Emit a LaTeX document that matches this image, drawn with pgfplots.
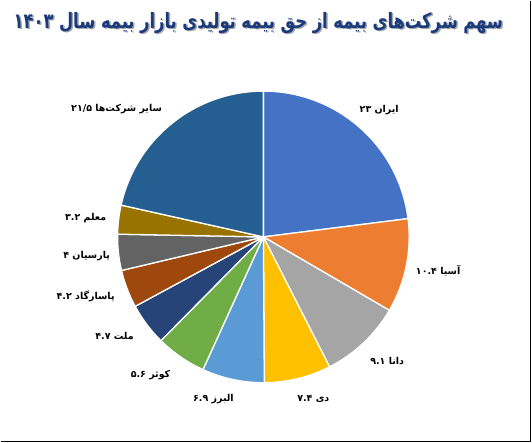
\documentclass[border=0pt]{standalone}
\usepackage{pgfplots}
\pgfplotsset{compat=1.18}
\usepackage{pgfplotstable}
\usepackage{fontspec}
\setmainfont{DejaVu Sans}
\newfontfamily\arabicfont[Script=Arabic]{DejaVu Sans}
\TeXXeTstate=1
\definecolor{c0}{HTML}{4472C4}
\definecolor{c1}{HTML}{ED7D31}
\definecolor{c2}{HTML}{A5A5A5}
\definecolor{c3}{HTML}{FFC000}
\definecolor{c4}{HTML}{5B9BD5}
\definecolor{c5}{HTML}{70AD47}
\definecolor{c6}{HTML}{264478}
\definecolor{c7}{HTML}{9E480E}
\definecolor{c8}{HTML}{636363}
\definecolor{c9}{HTML}{997300}
\definecolor{c10}{HTML}{255E91}
\definecolor{titleblue}{RGB}{25,58,125}
\pgfplotstableread{
v
23
10.4
9.1
7.4
6.9
5.6
4.7
4.2
4
3.2
21.5
}\piedata
\newcommand\lab[1]{{\arabicfont\fontsize{9.5bp}{11bp}\selectfont\bfseries #1}}
\newcommand\titletext{\resizebox{490bp}{!}{\arabicfont\fontsize{20bp}{24bp}\selectfont\bfseries\beginR سهم شرکت‌های بیمه از حق بیمه تولیدی بازار بیمه سال \beginL۱۴۰۳\endL\endR}}
\begin{document}
\begin{tikzpicture}
\gdef\piecum{0}%
\pgfplotsforeachungrouped \i in {0,...,10}{%
  \pgfplotstablegetelem{\i}{v}\of\piedata
  \pgfmathsetmacro\sa{90-3.6*\piecum}%
  \pgfmathsetmacro\newcum{\piecum+\pgfplotsretval}%
  \pgfmathsetmacro\ea{90-3.6*\newcum}%
  \expandafter\xdef\csname sa\i\endcsname{\sa}%
  \expandafter\xdef\csname ea\i\endcsname{\ea}%
  \xdef\piecum{\newcum}%
}%
\begin{axis}[
  scale only axis, width=532bp, height=442bp,
  xmin=0, xmax=532, ymin=0, ymax=442,
  hide axis, clip=false,
]
\fill[white] (axis cs:0,0) rectangle (axis cs:532,442);
\draw[black, line width=1.5bp] (axis cs:0,0.75) -- (axis cs:530.5,0.75) -- (axis cs:530.5,442);
\pgfplotsinvokeforeach{0,...,10}{
  \fill[c#1, draw=white, line width=1.3bp, line join=round]
    (axis cs:263,205.5) --
    (axis cs:{263+146*cos(\csname sa#1\endcsname)},{205.5+146*sin(\csname sa#1\endcsname)})
    arc[start angle=\csname sa#1\endcsname, end angle=\csname ea#1\endcsname, radius=146bp] -- cycle;
}
\node[text=black!35, inner sep=0pt, yscale=1.3] at (axis cs:259.5,418.5) {\titletext};
\node[text=titleblue, inner sep=0pt, yscale=1.3] at (axis cs:258,420) {\titletext};
\node at (axis cs:379,333) {\lab{\beginR ایران \beginL۲۳\endL\endR}};
\node at (axis cs:116,334) {\lab{\beginR سایر شرکت‌ها \beginL۲۱/۵\endL\endR}};
\node at (axis cs:438,172) {\lab{\beginR آسیا \beginL۱۰.۴\endL\endR}};
\node at (axis cs:387,81) {\lab{\beginR دانا \beginL۹.۱\endL\endR}};
\node at (axis cs:313,43) {\lab{\beginR دی \beginL۷.۴\endL\endR}};
\node at (axis cs:213,43) {\lab{\beginR البرز \beginL۶.۹\endL\endR}};
\node at (axis cs:150,67) {\lab{\beginR کوثر \beginL۵.۶\endL\endR}};
\node at (axis cs:114,106) {\lab{\beginR ملت \beginL۴.۷\endL\endR}};
\node at (axis cs:85,146) {\lab{\beginR پاسارگاد \beginL۴.۲\endL\endR}};
\node at (axis cs:86,186) {\lab{\beginR پارسیان \beginL۴\endL\endR}};
\node at (axis cs:85,224) {\lab{\beginR معلم \beginL۳.۲\endL\endR}};
\end{axis}
\end{tikzpicture}
\end{document}
